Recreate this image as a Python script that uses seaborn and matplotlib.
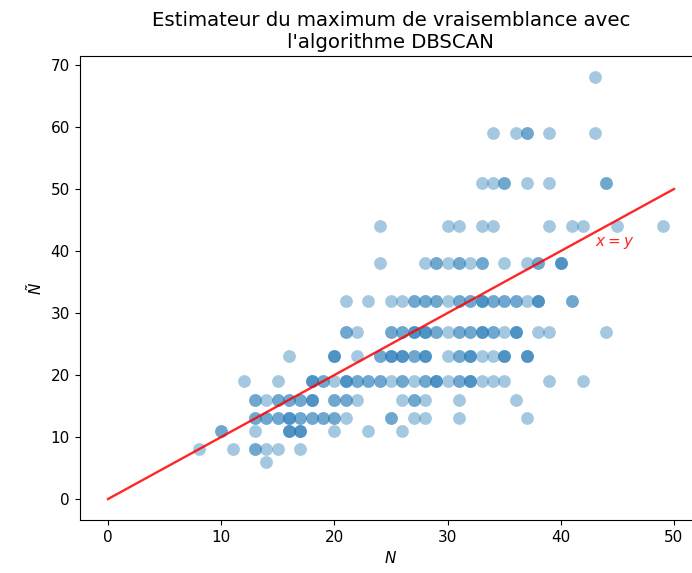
import numpy as np
import pandas as pd
import matplotlib
matplotlib.use("Agg")
import matplotlib.pyplot as plt
import seaborn as sns

# True number of clusters N (x) for each observed group of estimates
n_true = [
    43,
    34, 36, 37, 39, 43,
    33, 34, 35, 37, 39, 44,
    24, 30, 31, 33, 34, 39, 41, 42, 45, 49,
    24, 28, 29, 30, 31, 32, 33, 35, 37, 38, 40,
    21, 23, 25, 26, 27, 28, 29, 30, 31, 32, 33, 34, 35, 36, 37, 38, 41,
    21, 22, 25, 26, 27, 28, 29, 30, 31, 32, 33, 34, 35, 36, 38, 39, 44,
    16, 20, 22, 24, 25, 26, 27, 28, 30, 31, 32, 33, 34, 35, 37,
    12, 15, 18, 19, 20, 21, 22, 23, 24, 25, 26, 27, 28, 29, 30, 31, 32, 33, 34, 35, 39, 42,
    13, 14, 15, 16, 17, 18, 20, 21, 22, 26, 27, 28, 31, 36,
    13, 14, 15, 16, 17, 18, 19, 20, 21, 25, 27, 28, 31, 37,
    10, 13, 16, 17, 20, 23, 26,
    8, 11, 13, 14, 15, 17,
    14,
]
# Estimated number of clusters Ñ (y)
n_est = (
    [68] * 1 + [59] * 5 + [51] * 6 + [44] * 10 + [38] * 11 + [32] * 17
    + [27] * 17 + [23] * 15 + [19] * 22 + [16] * 14 + [13] * 14
    + [11] * 7 + [8] * 6 + [6] * 1
)
# How many runs gave each (N, Ñ) pair (overlapping points)
counts = [
    1,
    1, 1, 2, 1, 1,
    1, 1, 2, 1, 1, 2,
    1, 1, 1, 1, 1, 1, 1, 1, 1, 1,
    1, 1, 2, 1, 2, 1, 2, 1, 1, 2, 3,
    1, 1, 1, 1, 2, 2, 2, 1, 2, 2, 3, 2, 2, 2, 1, 3, 2,
    2, 1, 2, 2, 3, 3, 2, 1, 2, 2, 3, 2, 1, 3, 1, 1, 1,
    1, 3, 1, 2, 3, 3, 2, 3, 1, 2, 3, 1, 1, 3, 3,
    1, 1, 3, 2, 1, 3, 2, 2, 2, 1, 2, 1, 2, 3, 1, 2, 3, 1, 1, 1, 1, 1,
    2, 1, 2, 2, 2, 3, 2, 2, 1, 1, 2, 1, 1, 1,
    2, 2, 2, 3, 2, 2, 2, 2, 1, 2, 1, 1, 1, 1,
    2, 1, 3, 3, 1, 1, 1,
    1, 1, 2, 1, 1, 1,
    1,
]
line_x = [0, 50]
title = "Estimateur du maximum de vraisemblance avec\nl'algorithme DBSCAN"

df = pd.DataFrame({
    "N": np.repeat(n_true, counts),
    "Nt": np.repeat(n_est, counts),
})

W, H, DPI = 692, 573, 100
fig = plt.figure(figsize=(W / DPI, H / DPI), dpi=DPI)
# axes box in pixels: left 79.7, right 702.3 (clipped), top 56.3, bottom 520.1
l, r, t, b = 79.7, 702.3, 56.3, 520.1
ax = fig.add_axes([l / W, (H - b) / H, (r - l) / W, (b - t) / H])

sns.scatterplot(data=df, x="N", y="Nt", ax=ax, s=85, alpha=0.4,
                color="#1f77b4", linewidth=0, legend=False)
sns.lineplot(x=line_x, y=line_x, ax=ax, color="red", alpha=0.85,
             linewidth=1.7)
ax.text(43, 40, "$x = y$", color="red", alpha=0.85, fontsize=11,
        ha="left", va="bottom")

ax.set_xlim(-2.5, 52.5)
ax.set_ylim(-3.4, 71.4)
ax.set_xticks([0, 10, 20, 30, 40, 50])
ax.set_yticks([0, 10, 20, 30, 40, 50, 60, 70])
ax.tick_params(labelsize=11)
ax.spines["right"].set_visible(False)
ax.set_xlabel("$N$", fontsize=11)
ax.set_ylabel(r"$\tilde{N}$", fontsize=11)
ax.set_title(title, fontsize=14.2)

fig.savefig("out.png", dpi=DPI)
